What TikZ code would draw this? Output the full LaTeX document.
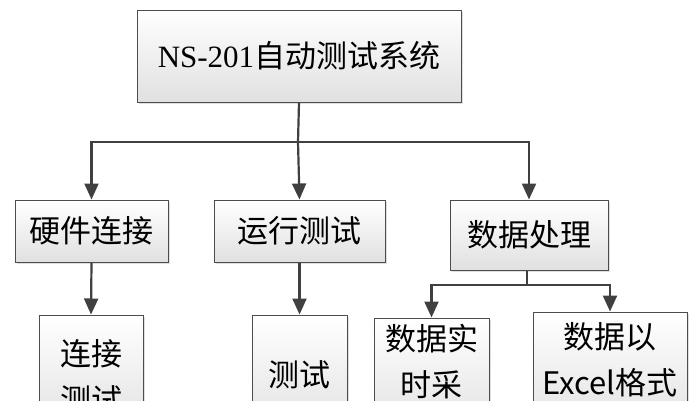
\documentclass[tikz,border=0pt]{standalone}
\usepackage{fontspec}
\setmainfont{Liberation Serif}
\newfontfamily\cjk{Noto Sans CJK SC}
\usetikzlibrary{positioning,arrows.meta,shadows}
\tikzset{
  box/.style={draw=black!70, line width=1pt, top color=white, bottom color=black!12,
    drop shadow={shadow xshift=2pt, shadow yshift=-2pt, opacity=0.25},
    inner sep=0pt, align=center, font=\cjk\fontsize{31}{46}\selectfont},
  txt/.style={inner sep=0pt, align=center, font=\cjk\fontsize{31}{46}\selectfont},
  link/.style={draw=black!75, line width=2.2pt},
  arr/.style={link, -{Triangle[width=14pt,length=16pt]}}
}
\begin{document}
\begin{tikzpicture}[x=1pt,y=-1pt]
\useasboundingbox (0,0) rectangle (700,400);
\clip (0,0) rectangle (700,400);
% top level
\node[box, minimum width=324pt, minimum height=92pt] (sys) at (299,56)
  {{\rmfamily NS-201}自动测试系统};
% second level
\node[box, minimum width=153pt, minimum height=62pt] (hw) at (91.5,231) {硬件连接};
\node[box, minimum width=171pt, minimum height=62pt] (run) at (299.5,231) {运行测试};
\node[box, minimum width=158pt, minimum height=70pt] (data) at (529,235) {数据处理};
% third level (cut off at bottom)
\node[box, minimum width=104pt, minimum height=120pt] (hwtest) at (91,375) {};
\node[txt] at (91,377) {连接\\测试};
\node[box, minimum width=95pt, minimum height=120pt] (runtest) at (299.5,375) {测试};
\node[box, minimum width=115pt, minimum height=120pt] (rt) at (431.5,378) {};
\node[txt] at (431.5,362) {数据实\\时采};
\node[box, minimum width=154pt, minimum height=124pt] (xls) at (610,374) {};
\node[txt] at (610,360) {数据以\\Excel格式};
% connectors
\coordinate (j1) at (298,142);
\coordinate (j2) at (527,285);
\draw[link] (sys.south) -- (j1);
\draw[arr] (j1) -| (hw.north);
\draw[arr] (j1) -- (run.north);
\draw[arr] (j1) -| (data.north);
\draw[arr] (hw.south) -- (hwtest.north);
\draw[arr] (run.south) -- (runtest.north);
\draw[link] (data.south -| j2) -- (j2);
\draw[arr] (j2) -| (rt.north);
\draw[arr] (j2) -| (xls.north);
\end{tikzpicture}
\end{document}
